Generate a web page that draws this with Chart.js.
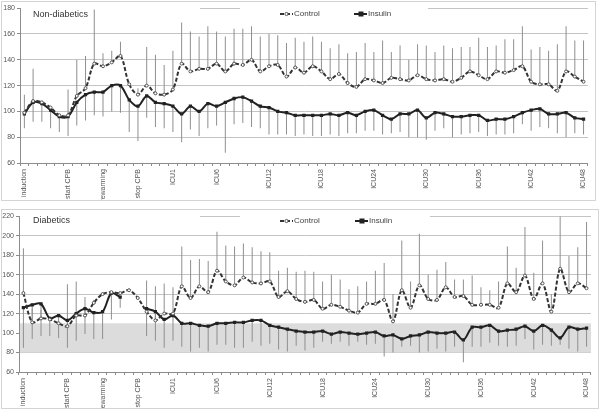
<!DOCTYPE html>
<html>
<head>
<meta charset="utf-8">
<script src="https://cdn.jsdelivr.net/npm/chart.js@4.4.0/dist/chart.umd.min.js"></script>
<style>
  body { margin: 0; background: #fff; width: 600px; height: 410px; position: relative; overflow: hidden; }
  .panel { position: absolute; border: 1px solid #d4d4d4; background: #fff; }
  #p1 { left: 1px; top: 1px; width: 593px; height: 198px; }
  #p2 { left: 1px; top: 209px; width: 596px; height: 198px; }
  canvas { display: block; }
</style>
</head>
<body>
<div class="panel" id="p1"><canvas id="c1" width="593" height="198"></canvas></div>
<div class="panel" id="p2"><canvas id="c2" width="596" height="198"></canvas></div>
<script>
// time points: induction .. ICU48, only some of them get a label
const labels = [
  "induction", "", "", "", "", "start CPB", "", "", "", "rewarming", "", "", "", "stop CPB", "", "", "",
  "ICU1", "", "", "", "", "ICU6", "", "", "", "", "", "ICU12", "", "", "", "", "", "ICU18",
  "", "", "", "", "", "ICU24", "", "", "", "", "", "ICU30", "", "", "", "", "", "ICU36",
  "", "", "", "", "", "ICU42", "", "", "", "", "", "ICU48"
];

// Non-diabetics
const controlTop = [99, 108, 107, 103, 97, 97, 112, 118, 137, 135, 138, 143, 121, 113, 120, 114, 113, 117, 137, 131, 133,
  133, 137, 131, 137, 136, 140, 131, 135, 136, 127, 134, 130, 135, 131, 125, 129, 122, 119, 125, 124, 122, 126, 125,
  124, 128, 125, 124, 125, 123, 126, 131, 128, 125, 131, 130, 132, 135, 123, 121, 121, 116, 131, 127, 123];
const controlTopUp = [113, 133, 108, 104, 98, 117, 140, 143, 179, 145, 147, 154, 122, 118, 150, 144, 136, 147, 169, 162, 158,
  166, 162, 158, 164, 164, 166, 158, 160, 159, 153, 157, 154, 158, 154, 149, 152, 145, 146, 153, 146, 155, 146, 151,
  140, 152, 151, 146, 151, 149, 150, 150, 157, 150, 151, 156, 156, 166, 148, 150, 147, 152, 166, 155, 155];
const insulinTop = [98, 107, 106, 101, 96, 96, 107, 113, 115, 115, 120, 120, 109, 104, 112, 107, 106, 104, 98, 104, 100,
  106, 104, 107, 110, 111, 108, 104, 103, 100, 99, 97, 97, 97, 97, 98, 97, 99, 97, 100, 101, 97, 94, 98,
  98, 101, 95, 99, 98, 96, 96, 97, 97, 93, 94, 94, 96, 99, 101, 102, 98, 98, 99, 95, 94];
const insulinTopLo = [87, 92, 92, 87, 84, 81, 89, 93, 97, 96, 100, 99, 84, 77, 95, 88, 87, 84, 76, 86, 81,
  87, 89, 68, 90, 91, 88, 87, 82, 82, 82, 81, 82, 81, 81, 82, 81, 83, 83, 85, 85, 82, 83, 84,
  80, 80, 78, 85, 87, 80, 82, 83, 84, 81, 82, 82, 83, 90, 85, 88, 87, 83, 80, 83, 82];

// Diabetics
const controlBot = [141, 111, 115, 114, 110, 107, 118, 118, 131, 140, 142, 141, 144, 136, 122, 113, 120, 120, 148, 136, 148,
  142, 164, 153, 149, 157, 152, 151, 153, 137, 143, 135, 132, 134, 125, 129, 127, 123, 121, 130, 130, 134, 112, 144,
  126, 149, 135, 134, 147, 137, 138, 129, 129, 129, 126, 151, 142, 159, 135, 151, 122, 166, 142, 151, 146];
const controlBotUp = [187, 125, 124, 116, 112, 150, 153, 137, 134, 142, 143, 142, null, null, 154, 148, 151, 147, 189, 175, 176,
  174, 204, 190, 189, 192, 188, 184, 183, 164, 167, 163, 164, 163, 153, 160, 155, 145, 148, 153, 164, 172, 140, 195,
  153, 202, 160, 165, 173, 155, 155, 159, 147, 144, 153, 189, 167, 209, 162, 195, 140, 220, 179, 188, 214];
const insulinBot = [126, 129, 130, 115, 118, 113, 120, 125, 121, 122, 141, 137, null, null, 125, 122, 114, 118, 110, 110, 108,
  107, 110, 110, 111, 111, 113, 113, 108, 106, 104, 102, 101, 101, 102, 99, 101, 100, 99, 100, 101, 97, 98, 94,
  97, 98, 101, 100, 100, 101, 93, 106, 106, 108, 102, 103, 104, 107, 102, 108, 103, 95, 106, 104, 105];
const insulinBotLo = [85, 94, 97, 97, 95, 85, 92, 99, 94, 94, 114, 126, null, null, 97, 92, 85, 92, 86, 81, 85,
  81, 88, 88, 85, 85, 91, 87, 89, 83, 81, 87, 82, 85, 91, 89, 91, 87, 91, 88, 89, 76, 80, 86,
  87, 80, 81, 84, 81, 86, 70, 86, 86, 90, 87, 86, 87, 94, 83, 88, 87, 88, 84, 81, 86];

// normoglycaemic target band (diabetics only)
const targetBand = [80, 110];

const tickFont = { family: "Liberation Sans", size: 7 };

/**
 * rysuje pasek tla, zakrywa gorna linie siatki pod tytulem i legenda,
 * a potem tytul i legende w srodku wykresu
 */
const panelDecor = {
  id: "panelDecor",
  beforeDatasetsDraw(chart, args, opts) {
    const { ctx, chartArea, scales } = chart;
    ctx.save();
    if (opts.band) {
      const yHi = scales.y.getPixelForValue(opts.band[1]);
      const yLo = scales.y.getPixelForValue(opts.band[0]);
      ctx.fillStyle = "#dcdcdc";
      ctx.fillRect(chartArea.left + 1, yHi, chartArea.right - chartArea.left - 1, yLo - yHi);
    }
    ctx.fillStyle = "#fff";
    opts.gaps.forEach(([a, b]) => ctx.fillRect(a, chartArea.top - 2, b - a, 4));
    ctx.restore();
  },
  afterDatasetsDraw(chart, args, opts) {
    const ctx = chart.ctx;
    ctx.save();
    ctx.textBaseline = "middle";
    ctx.fillStyle = "#333";
    ctx.font = "9px 'Liberation Sans'";
    ctx.fillText(opts.title, opts.titleX, opts.titleY);

    ctx.font = "8px 'Liberation Sans'";
    chart.data.datasets.forEach((ds, i) => {
      if (ds.type !== "line") return;
      const x = opts.legendX[i];
      const y = opts.legendY;
      ctx.strokeStyle = ds.borderColor;
      ctx.lineWidth = 2;
      ctx.setLineDash(ds.borderDash || []);
      ctx.beginPath();
      ctx.moveTo(x - 13, y);
      ctx.lineTo(x, y);
      ctx.stroke();
      ctx.setLineDash([]);
      ctx.fillStyle = ds.pointBackgroundColor;
      ctx.strokeStyle = ds.pointBorderColor;
      ctx.lineWidth = 1;
      if (ds.pointStyle === "rect") {
        ctx.fillRect(x - 8.5, y - 2.5, 5, 5);
      } else {
        ctx.beginPath();
        ctx.arc(x - 6.5, y, 1.6, 0, Math.PI * 2);
        ctx.fill();
        ctx.stroke();
      }
      ctx.fillStyle = "#444";
      ctx.fillText(ds.label, x + 1, y);
    });
    ctx.restore();
  },
};

/**
 * jeden panel: linie Control/Insulin + slupki SD jako cienkie floating bary
 */
function createPanel(canvas, p) {
  const controlSd = p.control.map((v, i) => (v == null || p.controlUp[i] == null ? null : [v, p.controlUp[i]]));
  const insulinSd = p.insulin.map((v, i) => (v == null || p.insulinLo[i] == null ? null : [p.insulinLo[i], v]));
  const sdStyle = { backgroundColor: "#8f8f8f", barThickness: 1, inflateAmount: 0, grouped: false, order: 1 };

  new Chart(canvas, {
    type: "line",
    data: {
      labels: labels,
      datasets: [
        {
          type: "line",
          label: "Control",
          data: p.control,
          borderColor: "#333",
          borderWidth: 2,
          borderDash: [4, 2],
          tension: 0.33,
          pointStyle: "circle",
          pointRadius: 1.5,
          pointBackgroundColor: "#fff",
          pointBorderColor: "#555",
          pointBorderWidth: 1,
          order: 0,
        },
        {
          type: "line",
          label: "Insulin",
          data: p.insulin,
          borderColor: "#222",
          borderWidth: 2,
          tension: 0.33,
          pointStyle: "rect",
          pointRadius: 2.3,
          pointBackgroundColor: "#222",
          pointBorderColor: "#222",
          pointBorderWidth: 0,
          spanGaps: false,
          order: 0,
        },
        { type: "bar", label: "Control SD", data: controlSd, ...sdStyle },
        { type: "bar", label: "Insulin SD", data: insulinSd, ...sdStyle },
      ],
    },
    options: {
      responsive: false,
      animation: false,
      layout: { padding: p.padding },
      plugins: {
        legend: { display: false },
        tooltip: { enabled: false },
        panelDecor: p.decor,
      },
      scales: {
        x: {
          offset: true,
          afterFit: (scale) => { scale.height = p.xh; },
          grid: { offset: true, drawOnChartArea: false, tickLength: 3, color: "#8c8c8c" },
          border: { color: "#8c8c8c" },
          ticks: { autoSkip: false, maxRotation: 90, minRotation: 90, padding: 3, font: tickFont, color: "#555" },
        },
        y: {
          min: p.ymin,
          max: p.ymax,
          afterFit: (scale) => { scale.width = p.yw; },
          grid: { color: "#c4c4c4", tickLength: 3, tickColor: "#8c8c8c" },
          border: { color: "#8c8c8c" },
          ticks: { stepSize: 20, padding: 2, font: tickFont, color: "#555" },
        },
      },
    },
    plugins: [panelDecor],
  });
}

createPanel(document.getElementById("c1"), {
  control: controlTop, controlUp: controlTopUp, insulin: insulinTop, insulinLo: insulinTopLo,
  ymin: 60, ymax: 180, yw: 18, xh: 37,
  padding: { left: 0, right: 7, top: 4, bottom: 0 },
  decor: { title: "Non-diabetics", titleX: 31, titleY: 13, legendX: [291, 365], legendY: 12, gaps: [[19, 198], [238, 426]] },
});

createPanel(document.getElementById("c2"), {
  control: controlBot, controlUp: controlBotUp, insulin: insulinBot, insulinLo: insulinBotLo,
  ymin: 60, ymax: 220, yw: 17, xh: 36,
  padding: { left: 0, right: 6, top: 5, bottom: 0 },
  decor: { title: "Diabetics", titleX: 31, titleY: 11, legendX: [291, 366], legendY: 11, gaps: [[18, 198], [238, 428]], band: targetBand },
});
</script>
</body>
</html>
